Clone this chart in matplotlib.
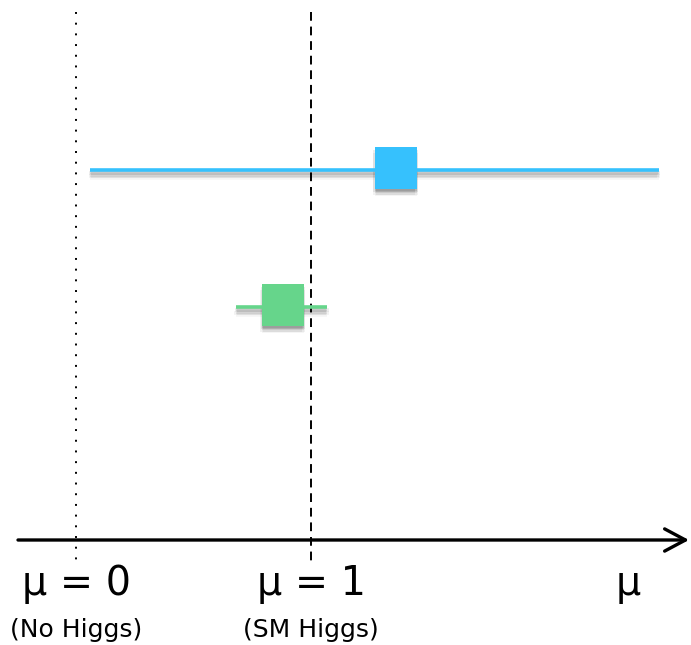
import matplotlib
matplotlib.use("Agg")
import matplotlib.pyplot as plt
from matplotlib import transforms

# Signal-strength measurements (central value and interval edges)
measurements = ["broad", "precise"]
mu_central = [1.36, 0.88]
mu_low = [0.06, 0.68]
mu_high = [2.48, 1.07]
colors = ["#36C1FD", "#66D58B"]

# Reference hypotheses
ref_mu = [0, 1]
ref_labels = ["μ = 0", "μ = 1"]
ref_notes = ["(No Higgs)", "(SM Higgs)"]
axis_label = "μ"

W, H = 691, 645
fig = plt.figure(figsize=(W / 100, H / 100), dpi=100)
ax = fig.add_axes([0, 0, 1, 1])
x0, scale = 76.0, 235.0
ax.set_xlim(-x0 / scale, (W - x0) / scale)
ax.set_ylim(H, 0)  # vertical layout in pixel rows
ax.axis("off")

row_y = [170, 307]
axis_y = 540

# Reference lines
ax.plot([ref_mu[0]] * 2, [12, 565], color="black", lw=1.4,
        linestyle=(0, (1.0, 4.5)))
ax.plot([ref_mu[1]] * 2, [12, 563], color="black", lw=1.4,
        linestyle=(0, (4.5, 3.0)))

# Soft drop shadows under intervals and markers
def shifted(dx, dy):
    return transforms.offset_copy(ax.transData, fig=fig, x=dx, y=-dy, units="points")

layers = [(0.0, 1.5, 0.09), (-0.8, 2.5, 0.07), (0.8, 2.5, 0.07),
          (0.0, 3.5, 0.08), (-1.0, 4.5, 0.05), (1.0, 4.5, 0.05),
          (0.0, 5.5, 0.04)]
for c, lo, hi, y, col in zip(mu_central, mu_low, mu_high, row_y, colors):
    for dx, dy, a in layers:
        tr = shifted(dx, dy)
        ax.plot([lo, hi], [y, y], color="black", lw=2.6, alpha=a,
                solid_capstyle="butt", transform=tr)
        ax.plot([c], [y - 2.5], marker="s", markersize=30, color="black",
                alpha=a, markeredgewidth=0, transform=tr)
    ax.plot([lo, hi], [y, y], color=col, lw=2.6, solid_capstyle="butt")
    ax.plot([c], [y - 2.5], marker="s", markersize=30, color=col,
            markeredgewidth=0)

# Horizontal axis with open arrowhead
ax.annotate("", xy=(689, axis_y), xytext=(18, axis_y),
            xycoords=("figure pixels", "data"), textcoords=("figure pixels", "data"),
            arrowprops=dict(arrowstyle="->,head_length=1.5,head_width=0.8",
                            lw=2.4, color="black", shrinkA=0, shrinkB=0))

# Labels
for m, lab, note in zip(ref_mu, ref_labels, ref_notes):
    ax.text(m, 584, lab, fontsize=28.5, ha="center", va="center",
            family="DejaVu Sans")
    ax.text(m, 630, note, fontsize=18, ha="center", va="center",
            family="DejaVu Sans")
ax.text((628 - x0) / scale, 584, axis_label, fontsize=28.5, ha="center",
        va="center", family="DejaVu Sans")

fig.savefig("out.png", dpi=100)
